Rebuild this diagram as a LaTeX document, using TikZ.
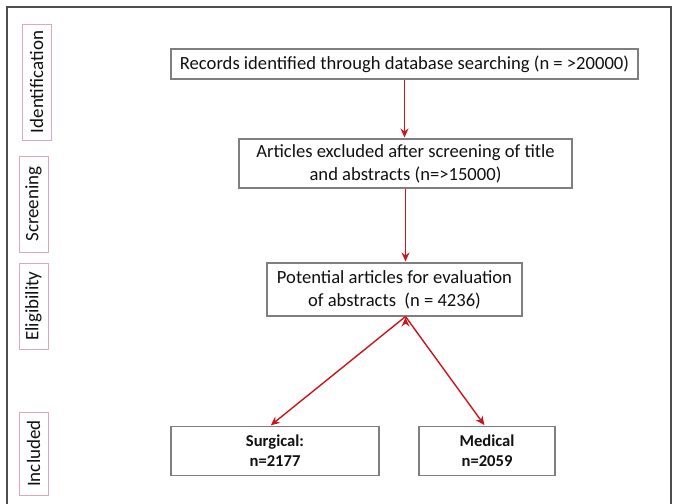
\documentclass[tikz,border=0pt]{standalone}
\usepackage{fontspec}
\setmainfont{Carlito}
\usepackage{tikz}
\usetikzlibrary{positioning,arrows.meta,calc}
\definecolor{boxgray}{HTML}{7F7F7F}
\definecolor{phasepink}{HTML}{E3A6B6}
\definecolor{flowred}{HTML}{C8161D}
\definecolor{framegray}{HTML}{4D4D4D}
\definecolor{inkgray}{HTML}{111111}

\begin{document}
\begin{tikzpicture}[x=1pt,y=-1pt,
    box/.style={draw=boxgray,line width=1.1pt,inner sep=0pt,align=center,
                text=inkgray,font=\fontsize{18.6}{23}\selectfont},
    result/.style={box,font=\bfseries\fontsize{16.6}{20}\selectfont},
    phase/.style={draw=phasepink,line width=1pt,rotate=90,inner sep=0pt,
                  minimum height=29pt,text=inkgray,font=\fontsize{19}{22}\selectfont},
    flow/.style={draw=flowred,line width=1.4pt,-{Stealth[length=9pt,width=8pt]},shorten >=1pt}]

    \useasboundingbox (0,0) rectangle (673,504);
    \draw[framegray,line width=1.6pt] (7,504) -- (7,7) -- (671,7) -- (671,504);

          % phases on the left
          \node[phase,minimum width=116pt] (p_id)   at (36.5,82)   {Identification};
          \node[phase,minimum width=96pt]  (p_scr)  at (33.5,204)  {Screening};
          \node[phase,minimum width=86pt]  (p_elig) at (33.5,306)  {Eligibility};
          \node[phase,minimum width=83pt]  (p_inc)  at (33.5,453.5) {Included};

          % flow boxes
          \node[box,minimum width=467pt,minimum height=30pt] (rec)  at (404.5,64)  {Records identified through database searching (n = >20000)};
          \node[box,minimum width=333pt,minimum height=49pt] (excl) at (405.5,163.5) {Articles excluded after screening of title\\and abstracts (n=>15000)};
          \node[box,minimum width=255pt,minimum height=53pt] (pot)  at (394.5,289.5) {Potential articles for evaluation\\of abstracts\ \ (n = 4236)};
          \node[result,minimum width=208pt,minimum height=49pt] (surg) at (275,451) {Surgical:\\n=2177};
          \node[result,minimum width=136pt,minimum height=49pt] (med)  at (487,451) {Medical\\n=2059};

          \coordinate (fork) at (excl.south |- pot.south);

          \path[flow] (rec.south)  edge (rec.south |- excl.north)
                      (excl.south) edge (excl.south |- pot.north)
                      (fork)       edge ([xshift=-5pt]surg.north)
                      (fork)       edge ([xshift=-2pt]med.north);
        \end{tikzpicture}
\end{document}
